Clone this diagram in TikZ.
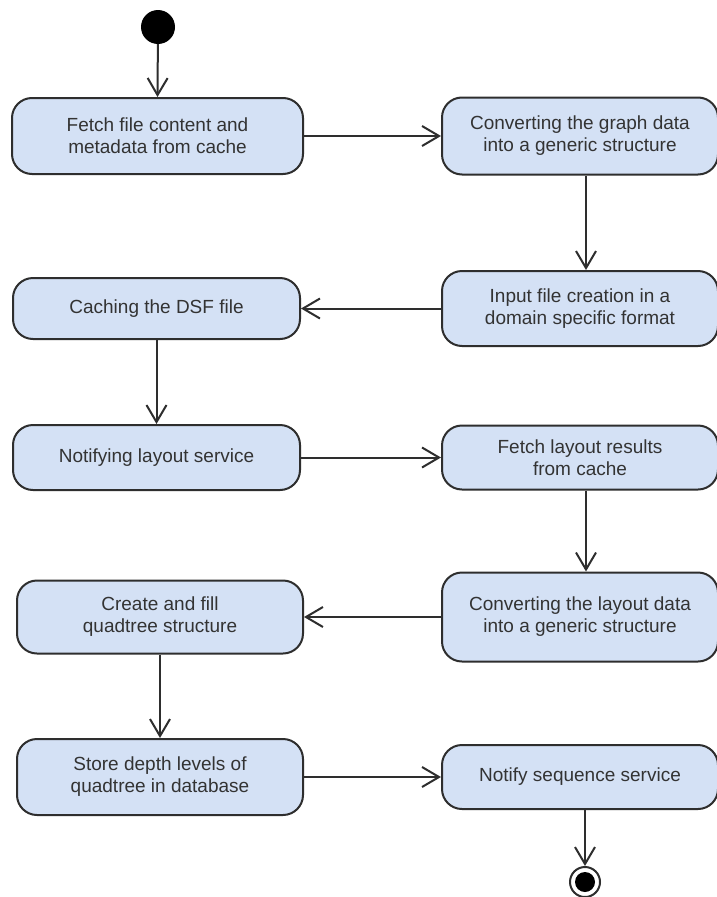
\documentclass[tikz,border=0pt]{standalone}
\usepackage{fontspec}
\setmainfont{Liberation Sans}
\usetikzlibrary{arrows.meta}
\definecolor{boxfill}{HTML}{D4E1F5}
\definecolor{boxline}{HTML}{2E2E2E}
\definecolor{txt}{HTML}{333333}
\begin{document}
\begin{tikzpicture}[x=1pt,y=-1pt,
  act/.style={draw=boxline, line width=2pt, fill=boxfill, rounded corners=20pt,
    align=center, text=txt, inner sep=0pt,
    font=\fontsize{19}{22}\selectfont},
  arr/.style={draw=boxline, line width=2pt,
    -{Straight Barb[length=17pt,width=20pt,line width=2pt]}}
]
\useasboundingbox[fill=white] (0,0) rectangle (717,897);

% start and end markers
\node (start) [circle, fill=black, minimum size=34pt, inner sep=0pt] at (158,27) {};
\node (stop) [circle, draw=boxline, line width=2pt, fill=white, minimum size=30pt, inner sep=0pt] at (585,882) {};
\node (stopdot) [circle, fill=black, minimum size=20pt, inner sep=0pt] at (585,882) {};

% activities
\node (L1) [act, minimum width=291pt, minimum height=76pt] at (157.5,136) {Fetch file content and\\metadata from cache};
\node (R1) [act, minimum width=276pt, minimum height=77pt] at (580,136) {Converting the graph data\\into a generic structure};
\node (R2) [act, minimum width=276pt, minimum height=75pt] at (580,308.5) {Input file creation in a\\domain specific format};
\node (L2) [act, minimum width=287pt, minimum height=61pt] at (156.5,308.5) {Caching the DSF file};
\node (L3) [act, minimum width=287pt, minimum height=65pt] at (156.5,457.5) {Notifying layout service};
\node (R3) [act, minimum width=276pt, minimum height=64pt] at (580,457.5) {Fetch layout results\\from cache};
\node (R4) [act, minimum width=276pt, minimum height=89pt] at (580,617) {Converting the layout data\\into a generic structure};
\node (L4) [act, minimum width=286pt, minimum height=73pt] at (160,617) {Create and fill\\quadtree structure};
\node (L5) [act, minimum width=286pt, minimum height=76pt] at (160,777) {Store depth levels of\\quadtree in database};
\node (R5) [act, minimum width=276pt, minimum height=64pt] at (580,777) {Notify sequence service};

% column guide for the right-hand vertical flow
\coordinate (colR) at (586,0);

% flow
\draw[arr] (start) -- (L1.north);
\draw[arr] (L1.east) -- (R1.west);
\draw[arr] (R1.south -| colR) -- (R2.north -| colR);
\draw[arr] (R2.west) -- (L2.east);
\draw[arr] (L2.south) -- (L3.north);
\draw[arr] (L3.east) -- (R3.west);
\draw[arr] (R3.south -| colR) -- (R4.north -| colR);
\draw[arr] (R4.west) -- (L4.east);
\draw[arr] (L4.south) -- (L5.north);
\draw[arr] (L5.east) -- (R5.west);
\draw[arr] (R5.south -| stop) -- (stop.north);
\end{tikzpicture}
\end{document}
